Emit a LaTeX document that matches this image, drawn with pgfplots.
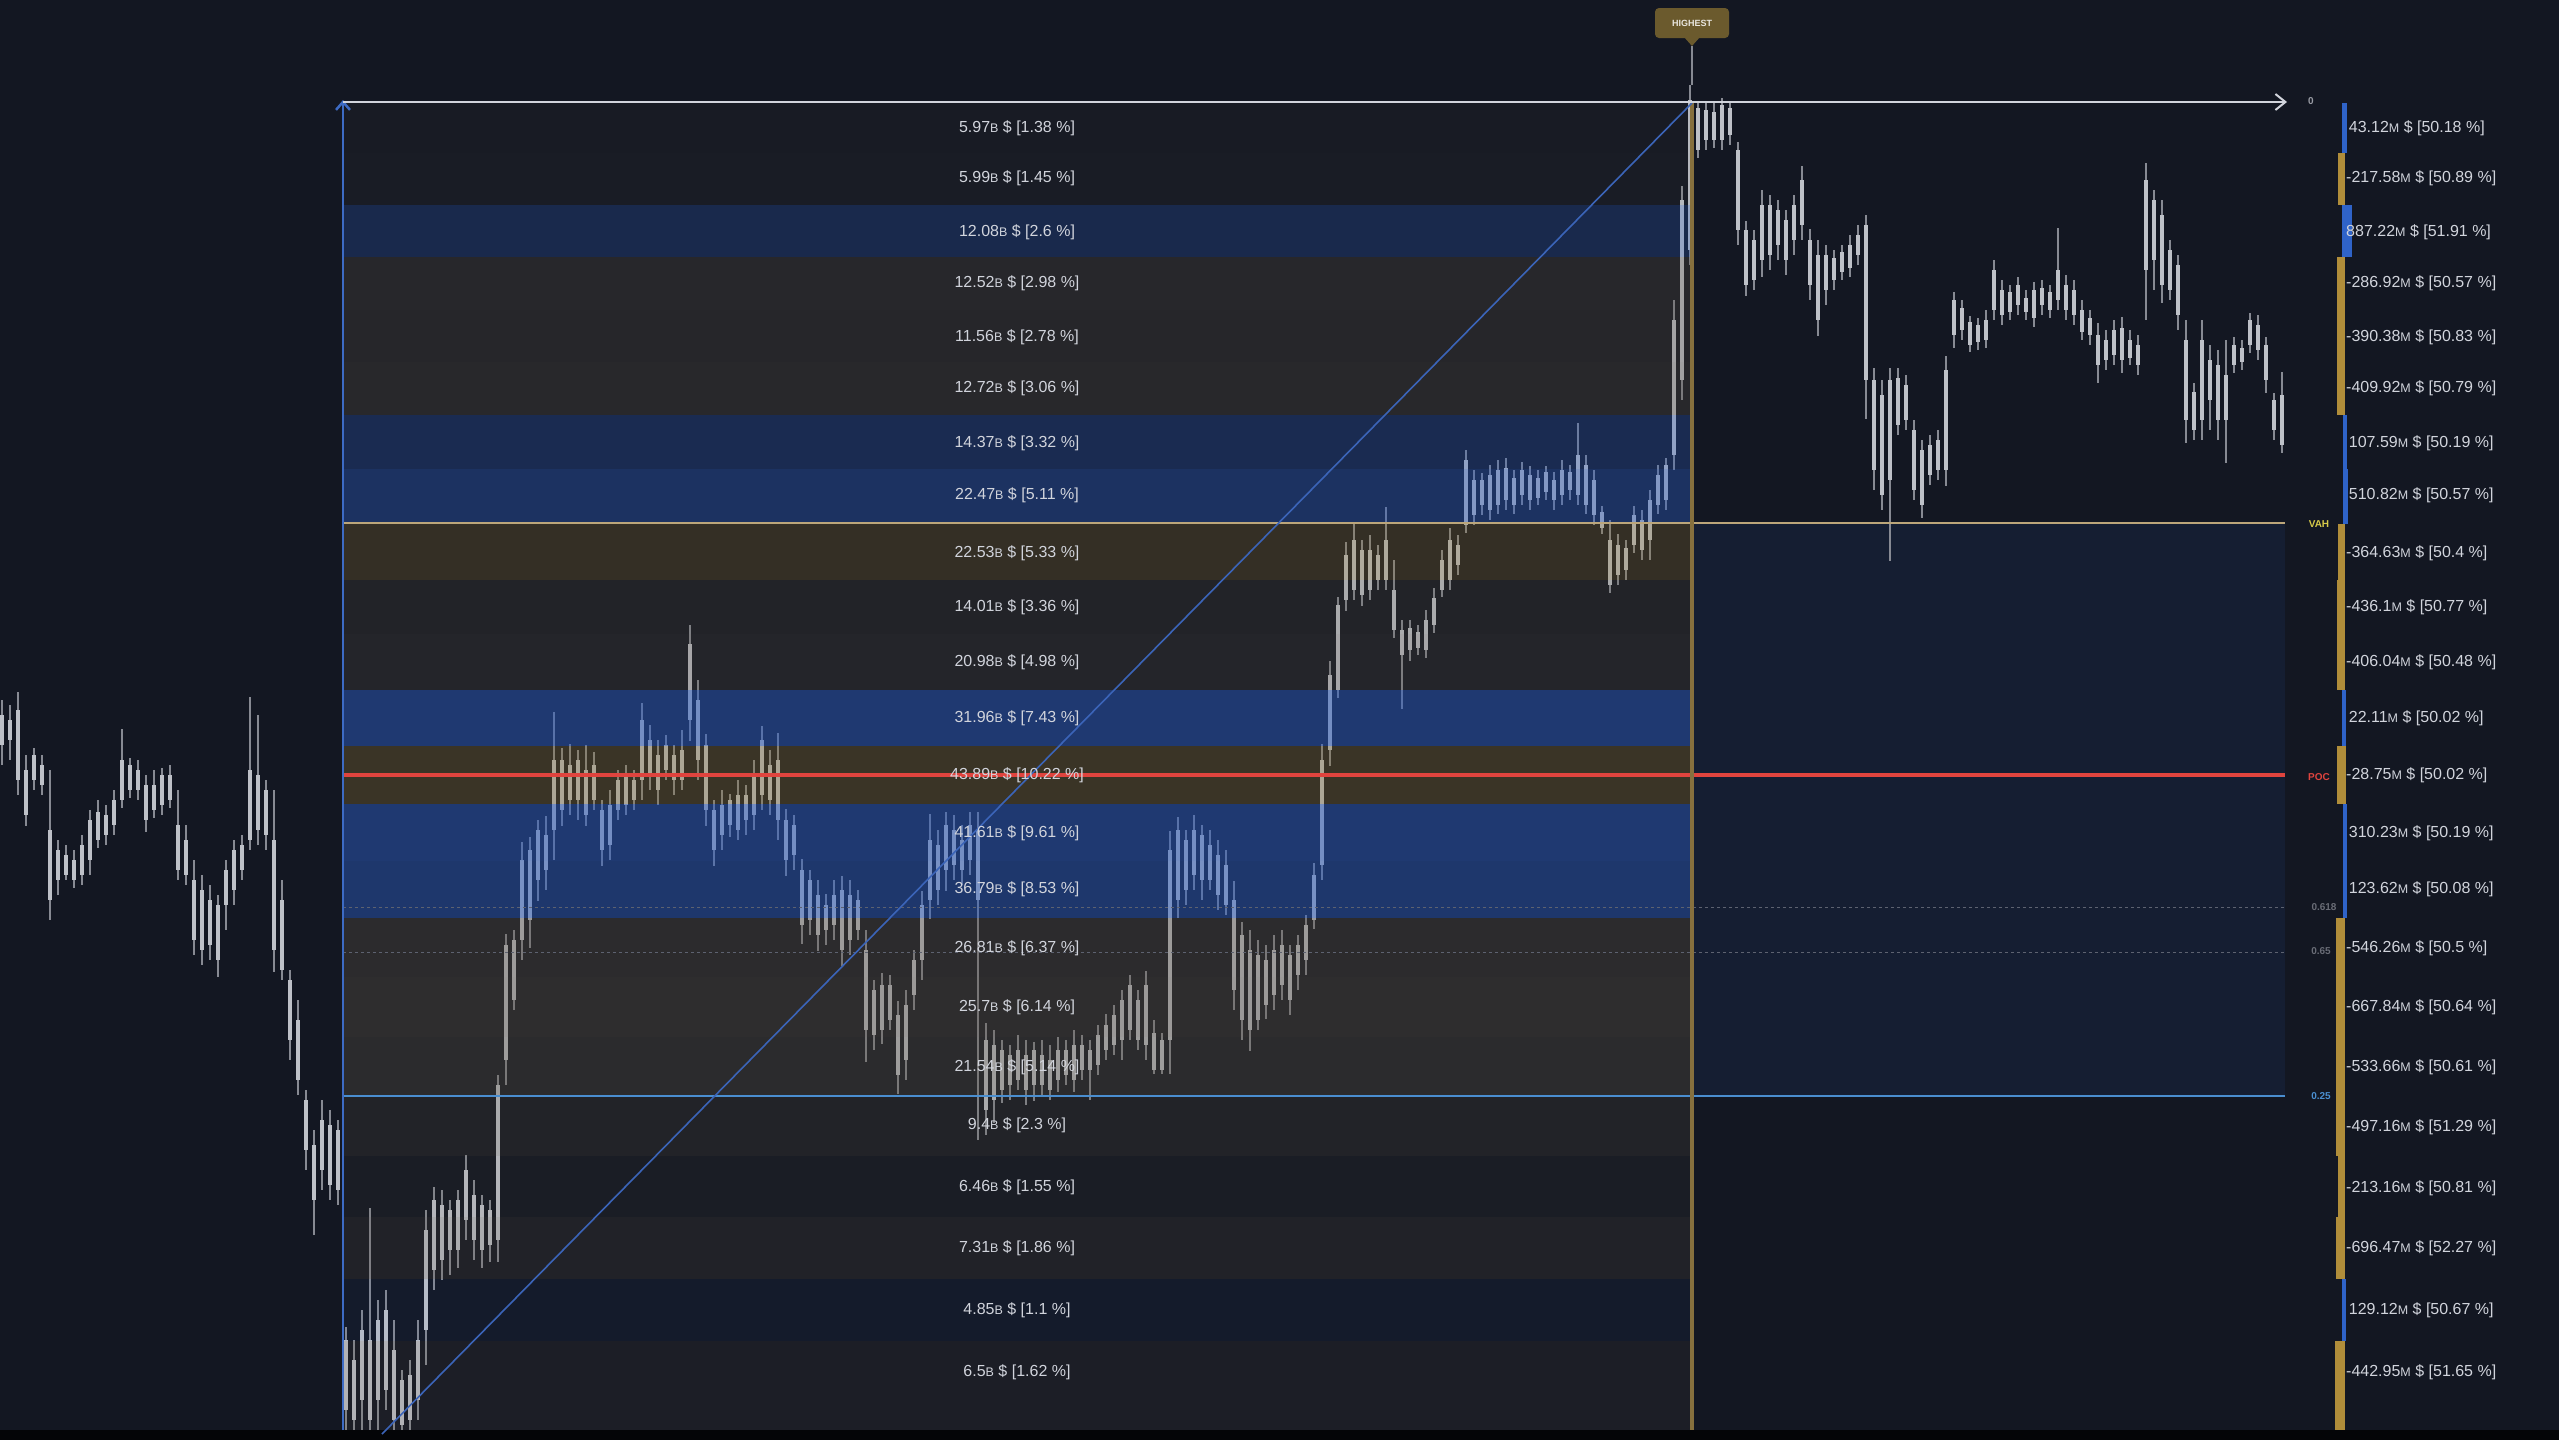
\documentclass[border=0pt]{standalone}
\usepackage{pgfplots}
\pgfplotsset{compat=1.18}
\usepackage{pgfplotstable}
\usepackage{graphicx}
\usepackage{fontspec}
\setmainfont{Liberation Sans}
\usetikzlibrary{arrows.meta}

\definecolor{bgc}{HTML}{131722}
\definecolor{blueh}{HTML}{2B5CC0}
\definecolor{brownh}{HTML}{8A7030}
\definecolor{grayw}{HTML}{5E5444}
\definecolor{wickc}{HTML}{878A93}
\definecolor{bodyc}{HTML}{BEC1C8}
\definecolor{labc}{HTML}{D1D4DC}
\definecolor{goldc}{HTML}{B08D3A}
\definecolor{rblue}{HTML}{2F63C8}
\definecolor{vahc}{HTML}{BCA67A}
\definecolor{pocc}{HTML}{E0443E}
\definecolor{lowc}{HTML}{4A8ED0}
\definecolor{fibc}{HTML}{5D6270}
\definecolor{tanc}{HTML}{86703E}
\definecolor{diagc}{HTML}{3B64B8}
\definecolor{vblue}{HTML}{3D6BC4}
\definecolor{hic}{HTML}{6B5A2D}

\tikzset{
  clab/.style={font=\fontsize{16}{18}\selectfont, text=labc, inner sep=0pt, anchor=center},
  rlab/.style={font=\fontsize{16}{18}\selectfont, text=labc, inner sep=0pt, anchor=west},
  slab/.style={font=\fontsize{10}{12}\selectfont\bfseries, inner sep=0pt, anchor=center},
}

\newcommand{\sB}{\scalebox{0.78}{B}}
\newcommand{\sM}{\scalebox{0.78}{M}}
\newcommand{\band}[4]{\addplot[fill=#1, fill opacity=#2, draw=none, forget plot] coordinates {(343,#3) (1692,#3) (1692,#4) (343,#4)} -- cycle;}
\newcommand{\rbar}[5]{\addplot[fill=#1, draw=none, forget plot] coordinates {(#2,#4) (#3,#4) (#3,#5) (#2,#5)} -- cycle;}
\newcommand{\cl}[2]{\node[clab] at (axis cs:1017,#1) {#2};}
\newcommand{\rl}[2]{\node[rlab] at (axis cs:2346,#1) {#2};}

% candles: x, high (top pixel), low (bottom pixel), body top, body bottom  (screen pixel rows)
\pgfplotstableread{
x hi lo bt bb
2 700 765 715 745
10 705 760 720 740
18 692 795 710 780
26 755 826 770 815
34 748 790 755 780
42 755 795 765 785
50 770 920 830 900
58 840 895 850 880
66 845 880 855 875
74 850 888 860 880
82 835 885 845 875
90 810 875 820 860
98 800 848 812 840
106 805 845 815 835
114 790 835 800 825
122 729 808 760 800
130 758 798 765 790
138 760 800 770 790
146 775 832 785 820
154 770 818 785 810
162 768 815 775 805
170 765 808 775 800
178 790 880 825 870
186 825 885 840 875
194 860 955 880 940
202 875 965 890 950
210 885 960 900 945
218 895 977 905 960
226 860 930 870 905
234 840 905 850 890
242 835 880 845 870
250 697 850 770 840
258 715 845 775 830
266 780 850 790 835
274 790 972 840 950
282 880 980 900 970
290 970 1060 980 1040
298 1000 1095 1020 1080
306 1090 1170 1100 1150
314 1130 1235 1145 1200
322 1100 1190 1120 1170
330 1110 1200 1125 1185
338 1120 1205 1130 1190
346 1327 1430 1340 1410
354 1340 1430 1360 1420
362 1310 1430 1330 1400
370 1208 1430 1340 1420
378 1300 1430 1320 1400
386 1290 1410 1310 1390
394 1320 1430 1350 1420
402 1370 1430 1380 1425
410 1360 1430 1375 1420
418 1320 1420 1340 1400
426 1210 1365 1230 1330
434 1187 1290 1200 1270
442 1190 1280 1205 1260
450 1200 1275 1210 1250
458 1190 1268 1200 1250
466 1155 1240 1170 1220
474 1180 1260 1195 1240
482 1195 1268 1205 1250
490 1200 1262 1210 1245
498 1075 1262 1085 1240
506 934 1085 945 1060
514 930 1010 940 1000
522 842 960 860 940
530 837 948 850 920
538 820 901 830 880
546 816 890 835 870
554 712 860 760 830
562 748 826 760 810
570 744 815 765 800
578 750 820 760 800
586 745 826 770 815
594 752 810 765 800
602 800 866 810 850
610 790 860 805 845
618 770 820 780 810
626 765 815 775 805
634 770 810 780 800
642 703 800 720 780
650 725 790 740 775
658 740 805 755 790
666 735 780 745 770
674 745 795 755 780
682 730 790 750 780
690 625 741 644 720
698 680 780 700 760
706 734 826 745 810
714 800 866 810 850
722 790 850 805 835
730 794 837 800 825
738 780 840 795 830
746 785 835 795 820
754 760 830 775 815
762 726 810 740 795
770 750 815 765 800
778 733 840 760 820
786 809 876 820 860
794 815 870 825 855
802 859 944 870 925
810 870 935 880 920
818 880 951 895 935
826 894 945 905 930
834 880 940 895 925
842 876 966 890 950
850 880 955 895 940
858 890 940 900 930
866 930 1062 950 1030
874 980 1050 990 1035
882 973 1044 985 1030
890 975 1030 985 1020
898 1001 1094 1015 1075
906 990 1080 1005 1060
914 950 1010 960 995
922 891 980 905 960
930 814 919 840 900
938 830 905 845 890
946 812 891 825 870
954 815 880 830 865
962 825 885 840 870
970 812 875 825 860
978 812 1140 830 900
986 1023 1135 1040 1110
994 1030 1123 1045 1100
1002 1040 1103 1050 1090
1010 1045 1100 1055 1085
1018 1035 1090 1050 1080
1026 1040 1105 1055 1090
1034 1042 1101 1050 1085
1042 1040 1095 1055 1085
1050 1045 1100 1060 1090
1058 1037 1092 1050 1080
1066 1040 1085 1050 1075
1074 1030 1092 1045 1080
1082 1035 1080 1045 1070
1090 1040 1100 1050 1070
1098 1025 1075 1035 1065
1106 1014 1060 1025 1050
1114 1005 1055 1015 1045
1122 990 1060 1000 1040
1130 975 1040 985 1030
1138 990 1050 1000 1040
1146 971 1060 985 1045
1154 1020 1074 1033 1070
1162 1033 1074 1040 1070
1170 831 1074 850 1040
1178 817 918 830 900
1186 830 905 840 890
1194 815 890 830 875
1202 825 900 835 880
1210 830 890 845 880
1218 840 910 855 895
1226 850 915 865 905
1234 881 1010 900 990
1242 922 1040 935 1020
1250 930 1051 950 1030
1258 940 1030 955 1020
1266 945 1019 960 1005
1274 935 1010 950 995
1282 930 1000 945 985
1290 945 1015 955 1000
1298 935 990 945 975
1306 915 975 925 960
1314 863 929 875 920
1322 744 880 760 865
1330 661 766 675 750
1338 597 698 605 690
1346 542 611 555 600
1354 523 600 540 590
1362 540 606 550 595
1370 535 600 550 590
1378 545 590 555 580
1386 507 590 540 580
1394 560 638 590 630
1402 620 709 630 655
1410 620 661 628 650
1418 625 655 632 648
1426 610 658 620 650
1434 588 633 598 625
1442 550 597 560 590
1450 528 590 540 580
1458 535 575 545 565
1466 450 533 460 525
1474 470 525 480 515
1482 473 515 480 505
1490 465 520 475 510
1498 460 514 470 505
1506 458 510 468 500
1514 470 514 478 505
1522 462 505 470 495
1530 466 510 475 500
1538 470 505 478 498
1546 466 500 472 492
1554 472 510 480 500
1562 460 505 470 495
1570 465 500 472 490
1578 423 505 455 495
1586 455 514 465 505
1594 470 525 480 515
1602 506 534 512 528
1610 520 593 540 585
1618 534 585 545 575
1626 540 580 548 570
1634 506 553 515 545
1642 510 560 520 550
1650 490 560 500 540
1658 465 514 475 505
1666 458 510 465 500
1674 300 470 320 455
1682 186 400 200 380
1690 85 265 100 250
1698 101 158 108 150
1706 101 150 110 140
1714 101 148 112 140
1722 98 150 105 140
1730 101 145 108 135
1738 142 245 150 230
1746 221 296 230 285
1754 230 290 240 280
1762 190 277 205 260
1770 195 270 205 255
1778 200 260 210 245
1786 210 275 220 260
1794 195 255 205 240
1802 166 240 180 225
1810 229 300 240 285
1818 240 336 255 320
1826 245 305 255 290
1834 250 290 258 280
1842 245 280 252 272
1850 235 277 245 268
1858 225 265 235 255
1866 215 419 225 380
1874 368 490 380 470
1882 380 510 395 495
1890 368 561 380 480
1898 368 435 378 425
1906 375 430 385 420
1914 420 500 430 490
1922 440 518 450 505
1930 435 485 445 475
1938 430 480 440 470
1946 356 486 370 470
1954 292 348 300 335
1962 300 340 308 330
1970 316 352 322 345
1978 318 350 325 342
1986 310 348 320 340
1994 260 320 270 310
2002 280 325 290 315
2010 285 320 292 312
2018 277 315 285 305
2026 290 320 298 312
2034 282 327 290 318
2042 280 315 288 305
2050 285 318 292 310
2058 228 310 270 300
2066 275 320 285 310
2074 280 325 290 315
2082 300 340 310 332
2090 310 345 318 335
2098 323 383 335 365
2106 330 370 340 360
2114 320 365 330 355
2122 317 373 328 360
2130 330 365 340 358
2138 335 375 345 365
2146 163 320 180 270
2154 190 290 200 260
2162 200 303 215 285
2170 240 300 250 290
2178 255 330 265 315
2186 320 443 340 420
2194 383 440 392 430
2202 320 440 340 420
2210 345 430 360 400
2218 350 440 365 420
2226 340 463 375 420
2234 337 373 345 365
2242 340 370 348 362
2250 313 353 320 345
2258 315 360 325 350
2266 337 393 345 380
2274 393 440 400 430
2282 372 453 395 445
}\candles

\begin{document}
\begin{tikzpicture}
\begin{axis}[
  width=2559pt, height=1440pt, scale only axis,
  xmin=0, xmax=2559, ymin=0, ymax=1440, y dir=reverse,
  hide axis, clip=true,
]
% background
\addplot[fill=bgc, draw=none, forget plot] coordinates {(0,0) (2559,0) (2559,1440) (0,1440)} -- cycle;
\addplot[fill=black!80!bgc, draw=none, forget plot] coordinates {(0,1430) (2559,1430) (2559,1440) (0,1440)} -- cycle;
% value area box
\addplot[fill=blueh, fill opacity=0.10, draw=none, forget plot] coordinates {(1692,524) (2285,524) (2285,1096) (1692,1096)} -- cycle;

% candles: wicks and bodies (one segment each, drawn downward from the top value)
\addplot[only marks, mark=none, mark size=0pt, mark options={draw=none, fill=none, opacity=0}, forget plot,
  error bars/.cd, y dir=plus, y explicit, error mark=none,
  error bar style={line width=2pt, draw=wickc, opacity=1}]
  table[x=x, y=hi, y error expr={\thisrow{lo}-\thisrow{hi}}] {\candles};
\addplot[only marks, mark=none, mark size=0pt, mark options={draw=none, fill=none, opacity=0}, forget plot,
  error bars/.cd, y dir=plus, y explicit, error mark=none,
  error bar style={line width=3.6pt, draw=bodyc, opacity=1}]
  table[x=x, y=bt, y error expr={\thisrow{bb}-\thisrow{bt}}] {\candles};

% volume profile rows
\band{grayw}{0.07}{103}{153}
\band{grayw}{0.09}{153}{205}
\band{blueh}{0.27}{205}{257}
\band{grayw}{0.28}{257}{310}
\band{grayw}{0.26}{310}{362}
\band{grayw}{0.29}{362}{415}
\band{blueh}{0.30}{415}{469}
\band{blueh}{0.40}{469}{524}
\band{brownh}{0.28}{524}{580}
\band{grayw}{0.20}{580}{634}
\band{grayw}{0.24}{634}{690}
\band{blueh}{0.50}{690}{746}
\band{brownh}{0.33}{746}{804}
\band{blueh}{0.50}{804}{861}
\band{blueh}{0.47}{861}{918}
\band{grayw}{0.34}{918}{977}
\band{grayw}{0.36}{977}{1037}
\band{grayw}{0.33}{1037}{1096}
\band{grayw}{0.20}{1096}{1156}
\band{grayw}{0.10}{1156}{1217}
\band{grayw}{0.19}{1217}{1279}
\band{blueh}{0.06}{1279}{1341}
\band{grayw}{0.13}{1341}{1430}

% right delta column
\rbar{rblue}{2342}{2347}{103}{153}
\rbar{goldc}{2338}{2345}{153}{205}
\rbar{rblue}{2342}{2352}{205}{257}
\rbar{goldc}{2337}{2345}{257}{310}
\rbar{goldc}{2337}{2345}{310}{362}
\rbar{goldc}{2337}{2345}{362}{415}
\rbar{rblue}{2343}{2347}{415}{469}
\rbar{rblue}{2343}{2348}{469}{524}
\rbar{goldc}{2338}{2345}{524}{580}
\rbar{goldc}{2337}{2345}{580}{634}
\rbar{goldc}{2337}{2345}{634}{690}
\rbar{rblue}{2342}{2346}{690}{746}
\rbar{goldc}{2337}{2346}{746}{804}
\rbar{rblue}{2343}{2347}{804}{861}
\rbar{rblue}{2343}{2347}{861}{918}
\rbar{goldc}{2336}{2345}{918}{977}
\rbar{goldc}{2336}{2345}{977}{1037}
\rbar{goldc}{2336}{2345}{1037}{1096}
\rbar{goldc}{2336}{2345}{1096}{1156}
\rbar{goldc}{2338}{2345}{1156}{1217}
\rbar{goldc}{2336}{2345}{1217}{1279}
\rbar{rblue}{2342}{2346}{1279}{1341}
\rbar{goldc}{2335}{2345}{1341}{1430}

% fib dotted lines
\addplot[fibc, line width=1pt, dash pattern=on 3pt off 3pt, forget plot] coordinates {(343,907) (2285,907)};
\addplot[fibc, line width=1pt, dash pattern=on 3pt off 3pt, forget plot] coordinates {(343,952) (2285,952)};
% level lines
\addplot[vahc, line width=2.2pt, forget plot] coordinates {(343,523) (2285,523)};
\addplot[pocc, line width=3.5pt, forget plot] coordinates {(343,775) (2285,775)};
\addplot[lowc, line width=2pt, forget plot] coordinates {(343,1096) (2285,1096)};
% tan vertical at the high
\addplot[tanc, line width=4pt, forget plot] coordinates {(1692,103) (1692,1430)};
\addplot[wickc, line width=2pt, forget plot] coordinates {(1692,46) (1692,85)};
% diagonal
\addplot[diagc, line width=1.6pt, forget plot] coordinates {(382,1434) (1692,103)};
% frame lines with arrows
\addplot[vblue, line width=2.5pt, -{Straight Barb[length=8pt,width=14pt]}, forget plot] coordinates {(343,1430) (343,100)};
\addplot[labc, line width=2pt, -{Straight Barb[length=10pt,width=16pt]}, forget plot] coordinates {(343,102) (2287,102)};

% HIGHEST marker
\addplot[fill=hic, draw=none, forget plot] coordinates {(1684,37) (1700,37) (1692,46)} -- cycle;
\node[fill=hic, rounded corners=4pt, minimum width=74pt, minimum height=30pt, inner sep=0pt,
  text=white!85!hic, font=\fontsize{9}{10}\selectfont\bfseries] at (axis cs:1692,23) {HIGHEST};

% centre labels
\cl{128}{5.97\sB{} \$ [1.38 \%]}
\cl{178}{5.99\sB{} \$ [1.45 \%]}
\cl{232}{12.08\sB{} \$ [2.6 \%]}
\cl{283}{12.52\sB{} \$ [2.98 \%]}
\cl{337}{11.56\sB{} \$ [2.78 \%]}
\cl{388}{12.72\sB{} \$ [3.06 \%]}
\cl{443}{14.37\sB{} \$ [3.32 \%]}
\cl{495}{22.47\sB{} \$ [5.11 \%]}
\cl{553}{22.53\sB{} \$ [5.33 \%]}
\cl{607}{14.01\sB{} \$ [3.36 \%]}
\cl{662}{20.98\sB{} \$ [4.98 \%]}
\cl{718}{31.96\sB{} \$ [7.43 \%]}
\cl{775}{43.89\sB{} \$ [10.22 \%]}
\cl{833}{41.61\sB{} \$ [9.61 \%]}
\cl{889}{36.79\sB{} \$ [8.53 \%]}
\cl{948}{26.81\sB{} \$ [6.37 \%]}
\cl{1007}{25.7\sB{} \$ [6.14 \%]}
\cl{1067}{21.54\sB{} \$ [5.14 \%]}
\cl{1125}{9.4\sB{} \$ [2.3 \%]}
\cl{1187}{6.46\sB{} \$ [1.55 \%]}
\cl{1248}{7.31\sB{} \$ [1.86 \%]}
\cl{1310}{4.85\sB{} \$ [1.1 \%]}
\cl{1372}{6.5\sB{} \$ [1.62 \%]}

% right labels
\rl{128}{\,43.12\sM{} \$ [50.18 \%]}
\rl{178}{-217.58\sM{} \$ [50.89 \%]}
\rl{232}{887.22\sM{} \$ [51.91 \%]}
\rl{283}{-286.92\sM{} \$ [50.57 \%]}
\rl{337}{-390.38\sM{} \$ [50.83 \%]}
\rl{388}{-409.92\sM{} \$ [50.79 \%]}
\rl{443}{\,107.59\sM{} \$ [50.19 \%]}
\rl{495}{\,510.82\sM{} \$ [50.57 \%]}
\rl{553}{-364.63\sM{} \$ [50.4 \%]}
\rl{607}{-436.1\sM{} \$ [50.77 \%]}
\rl{662}{-406.04\sM{} \$ [50.48 \%]}
\rl{718}{\,22.11\sM{} \$ [50.02 \%]}
\rl{775}{-28.75\sM{} \$ [50.02 \%]}
\rl{833}{\,310.23\sM{} \$ [50.19 \%]}
\rl{889}{\,123.62\sM{} \$ [50.08 \%]}
\rl{948}{-546.26\sM{} \$ [50.5 \%]}
\rl{1007}{-667.84\sM{} \$ [50.64 \%]}
\rl{1067}{-533.66\sM{} \$ [50.61 \%]}
\rl{1127}{-497.16\sM{} \$ [51.29 \%]}
\rl{1188}{-213.16\sM{} \$ [50.81 \%]}
\rl{1248}{-696.47\sM{} \$ [52.27 \%]}
\rl{1310}{\,129.12\sM{} \$ [50.67 \%]}
\rl{1372}{-442.95\sM{} \$ [51.65 \%]}

% small level tags
\node[slab, text=labc!70!bgc] at (axis cs:2311,101) {0};
\node[slab, text=vahc!60!yellow] at (axis cs:2319,524) {VAH};
\node[slab, text=pocc] at (axis cs:2319,777) {POC};
\node[slab, text=labc!45!bgc] at (axis cs:2324,907) {0.618};
\node[slab, text=labc!45!bgc] at (axis cs:2321,951) {0.65};
\node[slab, text=lowc] at (axis cs:2321,1096) {0.25};
\end{axis}
\end{tikzpicture}
\end{document}
